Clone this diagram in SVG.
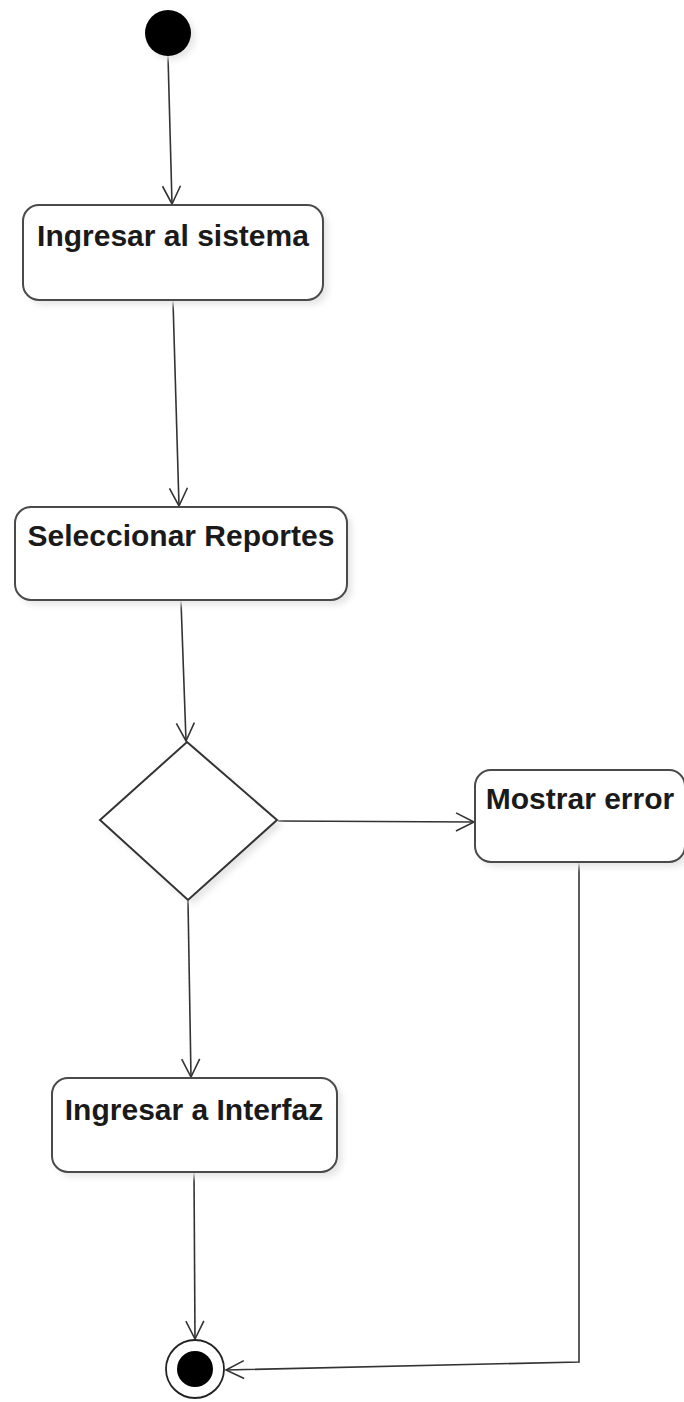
<svg xmlns="http://www.w3.org/2000/svg" width="684" height="1402" viewBox="0 0 684 1402">
<style>
.box{fill:#fff;stroke:#4a4a4a;stroke-width:2}
.sh{fill:#e6e6e6;filter:url(#blur)}
.lbl{font-family:"Liberation Sans",Arial,sans-serif;font-weight:bold;font-size:30px;fill:#1a1a1a;text-anchor:middle}
.edge{fill:none;stroke:#333;stroke-width:1.6;marker-end:url(#arr)}
</style>
<defs>
<filter id="blur" x="-20%" y="-20%" width="140%" height="140%"><feGaussianBlur stdDeviation="3"/></filter>
<marker id="arr" markerUnits="userSpaceOnUse" markerWidth="24" markerHeight="24" refX="19" refY="10" orient="auto">
<path d="M1,1 L19,10 L1,19" fill="none" stroke="#333" stroke-width="1.6"/>
</marker>
</defs>
<rect width="684" height="1402" fill="#fff"/>
<g id="connectors">
<line class="edge" x1="168" y1="56" x2="172" y2="204"/>
<line class="edge" x1="173" y1="301" x2="179" y2="506"/>
<line class="edge" x1="181" y1="601" x2="186" y2="741"/>
<line class="edge" x1="278" y1="821" x2="474" y2="822"/>
<line class="edge" x1="188" y1="901" x2="191" y2="1077"/>
<line class="edge" x1="194" y1="1173" x2="195" y2="1339"/>
<polyline class="edge" points="579,863 579,1362 226,1370"/>
</g>
<g id="start">
<circle cx="172" cy="37" r="23" class="sh"/>
<circle cx="168" cy="33" r="23" fill="#000"/>
</g>
<g id="n1">
<rect x="28" y="210" width="300" height="95" rx="16" class="sh"/>
<rect x="23" y="205" width="300" height="95" rx="16" class="box"/>
<text x="173" y="246" class="lbl">Ingresar al sistema</text>
</g>
<g id="n2">
<rect x="20" y="512" width="332" height="93" rx="16" class="sh"/>
<rect x="15" y="507" width="332" height="93" rx="16" class="box"/>
<text x="181" y="546" class="lbl">Seleccionar Reportes</text>
</g>
<g id="decision">
<polygon points="192,747 282,825 193,905 105,825" class="sh"/>
<polygon points="187,742 277,820 188,900 100,820" fill="#fff" stroke="#333" stroke-width="2"/>
</g>
<g id="n3">
<rect x="480" y="775" width="210" height="92" rx="16" class="sh"/>
<rect x="475" y="770" width="210" height="92" rx="16" class="box"/>
<text x="580" y="809" class="lbl">Mostrar error</text>
</g>
<g id="n4">
<rect x="57" y="1083" width="285" height="94" rx="16" class="sh"/>
<rect x="52" y="1078" width="285" height="94" rx="16" class="box"/>
<text x="194" y="1120" class="lbl">Ingresar a Interfaz</text>
</g>
<g id="end">
<circle cx="195" cy="1369" r="29" fill="#fff" stroke="#222" stroke-width="1.8"/>
<circle cx="195" cy="1369" r="18" fill="#000"/>
</g>
</svg>
